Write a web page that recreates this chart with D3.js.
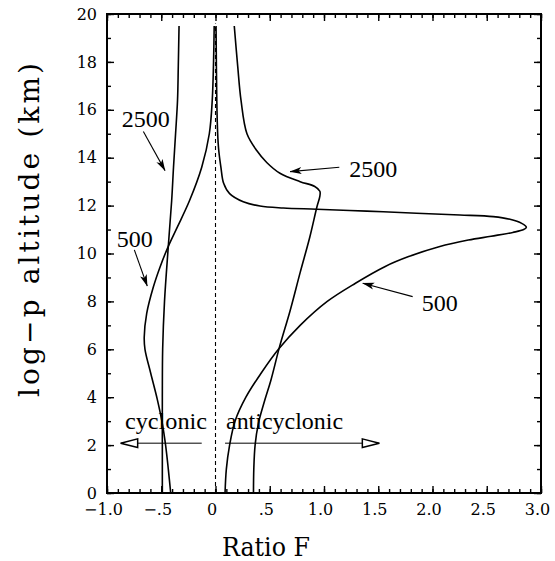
<!DOCTYPE html>
<html>
<head>
<meta charset="utf-8">
<script src="https://cdn.jsdelivr.net/npm/d3@7"></script>
<style>
  body { margin: 0; background: #fff; }
  .tick text { font-family: "DejaVu Serif", serif; font-size: 16px; fill: #000; }
  .tick line { stroke: #000; stroke-width: 1.4; }
  .curve { fill: none; stroke: #000; stroke-width: 1.6; }
  .note { font-family: "Liberation Serif", serif; font-size: 24px; fill: #000; }
  .title { font-family: "DejaVu Serif", serif; fill: #000; }
</style>
</head>
<body>
<div id="chart"></div>
<script>
// profiles: [altitude km, ratio F]
const cyc2500 = [[0,-0.49],[2,-0.49],[4,-0.49],[6,-0.487],[8,-0.47],[10.3,-0.435],[12.2,-0.404],
  [13.6,-0.387],[15,-0.368],[16.4,-0.35],[17.8,-0.343],[19.5,-0.336]];
const anti2500 = [[0,0.35],[1,0.353],[2,0.365],[2.9,0.395],[3.9,0.456],[4.7,0.51],[6.1,0.59],
  [7.6,0.687],[9.2,0.78],[10.7,0.87],[11.95,0.935],[12.4,0.962],[12.6,0.962],[12.8,0.915],
  [13.0,0.78],[13.35,0.594],[13.8,0.472],[14.3,0.38],[15,0.29],[16.4,0.235],[17.8,0.205],[19.5,0.173]];
const cyc500 = [[0,-0.413],[1,-0.435],[2,-0.46],[2.9,-0.49],[3.9,-0.536],[5,-0.597],[6,-0.65],
  [6.5,-0.657],[7.5,-0.634],[8.6,-0.573],[9.45,-0.51],[10.3,-0.435],[11.1,-0.352],[12.2,-0.24],
  [13.6,-0.127],[15,-0.057],[16.4,-0.03],[18,-0.018],[19.5,-0.012]];
const anti500 = [[0,0.088],[1,0.1],[2,0.13],[3,0.18],[4,0.28],[5,0.42],[6,0.58],[7,0.78],
  [8,1.03],[8.76,1.29],[9.45,1.56],[9.87,1.78],[10.28,2.06],[10.56,2.33],[10.72,2.54],
  [10.88,2.74],[11.0,2.84],[11.1,2.865],[11.26,2.822],[11.43,2.714],[11.54,2.56],[11.61,2.253],
  [11.68,1.854],[11.77,1.394],[11.85,0.933],[11.9,0.625],[11.98,0.41],[12.16,0.256],[12.5,0.13],
  [12.93,0.075],[13.6,0.05],[14.3,0.03],[15,0.02],[16.4,0.012],[19.5,0.005]];

const xTicks = [-1, -0.5, 0, 0.5, 1, 1.5, 2, 2.5, 3];
const xTickLabels = ["\u22121.0", "\u2212.5", "0", ".5", "1.0", "1.5", "2.0", "2.5", "3.0"];
const yTicks = [0, 2, 4, 6, 8, 10, 12, 14, 16, 18, 20];

// labels with arrows, in data units [F, alt]
const notes = [
  { text: "2500", at: [-0.865, 15.28], from: [-0.665, 15.09], to: [-0.465, 13.46] },
  { text: "500", at: [-0.91, 10.28], from: [-0.748, 10.15], to: [-0.629, 8.64] },
  { text: "2500", at: [1.233, 13.18], from: [1.141, 13.6], to: [0.687, 13.42] },
  { text: "500", at: [1.9, 7.58], from: [1.817, 8.2], to: [1.357, 8.76] }
];

const svgWidth = 555, svgHeight = 561;
const plot = { left: 107, right: 541, top: 14, bottom: 493 };

let svg = d3.select("#chart").append("svg")
  .attr("width", svgWidth)
  .attr("height", svgHeight);

let x = d3.scaleLinear().domain([-1, 3]).range([plot.left, plot.right]);
let y = d3.scaleLinear().domain([0, 20]).range([plot.bottom, plot.top]);

let defs = svg.append("defs");
defs.append("marker")
  .attr("id", "head")
  .attr("viewBox", "0 0 12 8")
  .attr("refX", 11.5).attr("refY", 4)
  .attr("markerWidth", 12).attr("markerHeight", 8)
  .attr("markerUnits", "userSpaceOnUse")
  .attr("orient", "auto")
  .append("path").attr("d", "M0,0.5 L12,4 L0,7.5 L3,4 Z").attr("fill", "#000");
defs.append("marker")
  .attr("id", "open")
  .attr("viewBox", "0 0 19 11")
  .attr("refX", 18).attr("refY", 5.5)
  .attr("markerWidth", 19).attr("markerHeight", 11)
  .attr("markerUnits", "userSpaceOnUse")
  .attr("orient", "auto")
  .append("path").attr("d", "M1,1.2 L18,5.5 L1,9.8 Z")
  .attr("fill", "#fff").attr("stroke", "#000").attr("stroke-width", 1.5);

// axes: minor + major ticks, pointing inward on all four sides
const minorX = d3.range(-10, 31).map(i => i / 10);
const minorY = d3.range(0, 21);

svg.append("g").attr("transform", `translate(0,${plot.bottom})`)
  .call(d3.axisBottom(x).tickValues(minorX).tickSize(-4).tickFormat(""));
svg.append("g").attr("transform", `translate(0,${plot.bottom})`)
  .call(d3.axisBottom(x).tickValues(xTicks).tickSize(-7).tickPadding(11)
    .tickFormat((d, i) => xTickLabels[i]))
  .selectAll("text").attr("dx", -4);
svg.append("g").attr("transform", `translate(0,${plot.top})`)
  .call(d3.axisTop(x).tickValues(minorX).tickSize(-4).tickFormat(""));
svg.append("g").attr("transform", `translate(0,${plot.top})`)
  .call(d3.axisTop(x).tickValues(xTicks).tickSize(-7).tickFormat(""));

svg.append("g").attr("transform", `translate(${plot.left},0)`)
  .call(d3.axisLeft(y).tickValues(minorY).tickSize(-4).tickFormat(""));
svg.append("g").attr("transform", `translate(${plot.left},0)`)
  .call(d3.axisLeft(y).tickValues(yTicks).tickSize(-7).tickPadding(10).tickFormat(d3.format("d")));
svg.append("g").attr("transform", `translate(${plot.right},0)`)
  .call(d3.axisRight(y).tickValues(minorY).tickSize(-4).tickFormat(""));
svg.append("g").attr("transform", `translate(${plot.right},0)`)
  .call(d3.axisRight(y).tickValues(yTicks).tickSize(-7).tickFormat(""));

svg.selectAll(".domain").remove();

// frame
svg.append("rect")
  .attr("x", plot.left).attr("y", plot.top)
  .attr("width", plot.right - plot.left).attr("height", plot.bottom - plot.top)
  .attr("fill", "none").attr("stroke", "#000").attr("stroke-width", 2);

// zero line
svg.append("line")
  .attr("x1", x(0)).attr("x2", x(0))
  .attr("y1", y(0)).attr("y2", y(19.6))
  .attr("stroke", "#000").attr("stroke-width", 1.1)
  .attr("stroke-dasharray", "4,3");

// curves
let line = d3.line()
  .x(d => x(d[1]))
  .y(d => y(d[0]))
  .curve(d3.curveCatmullRom.alpha(0.5));

svg.selectAll("path.curve")
  .data([cyc2500, anti2500, cyc500, anti500])
  .join("path")
  .attr("class", "curve")
  .attr("d", line);

// annotations
notes.forEach(n => {
  svg.append("text").attr("class", "note")
    .attr("x", x(n.at[0])).attr("y", y(n.at[1]))
    .text(n.text);
  svg.append("line")
    .attr("x1", x(n.from[0])).attr("y1", y(n.from[1]))
    .attr("x2", x(n.to[0])).attr("y2", y(n.to[1]))
    .attr("stroke", "#000").attr("stroke-width", 1.1)
    .attr("marker-end", "url(#head)");
});

// cyclonic / anticyclonic arrows
svg.append("line")
  .attr("x1", x(-0.127)).attr("x2", x(-0.874))
  .attr("y1", y(2.08)).attr("y2", y(2.08))
  .attr("stroke", "#000").attr("stroke-width", 1)
  .attr("marker-end", "url(#open)");
svg.append("line")
  .attr("x1", x(0.088)).attr("x2", x(1.51))
  .attr("y1", y(2.08)).attr("y2", y(2.08))
  .attr("stroke", "#000").attr("stroke-width", 1)
  .attr("marker-end", "url(#open)");
svg.append("text").attr("class", "note")
  .attr("x", x(-0.834)).attr("y", y(2.67))
  .attr("textLength", 82).attr("lengthAdjust", "spacingAndGlyphs")
  .text("cyclonic");
svg.append("text").attr("class", "note")
  .attr("x", x(0.097)).attr("y", y(2.67))
  .attr("textLength", 117).attr("lengthAdjust", "spacingAndGlyphs")
  .text("anticyclonic");

// axis titles
svg.append("text").attr("class", "title")
  .attr("x", 266).attr("y", 556)
  .attr("text-anchor", "middle")
  .style("font-size", "26px")
  .attr("textLength", 88).attr("lengthAdjust", "spacingAndGlyphs")
  .text("Ratio F");
svg.append("text").attr("class", "title")
  .attr("transform", "rotate(-90)")
  .attr("x", -230).attr("y", 39)
  .attr("text-anchor", "middle")
  .style("font-size", "28px")
  .attr("textLength", 334).attr("lengthAdjust", "spacing")
  .text("log\u2212p altitude (km)");
</script>
</body>
</html>
